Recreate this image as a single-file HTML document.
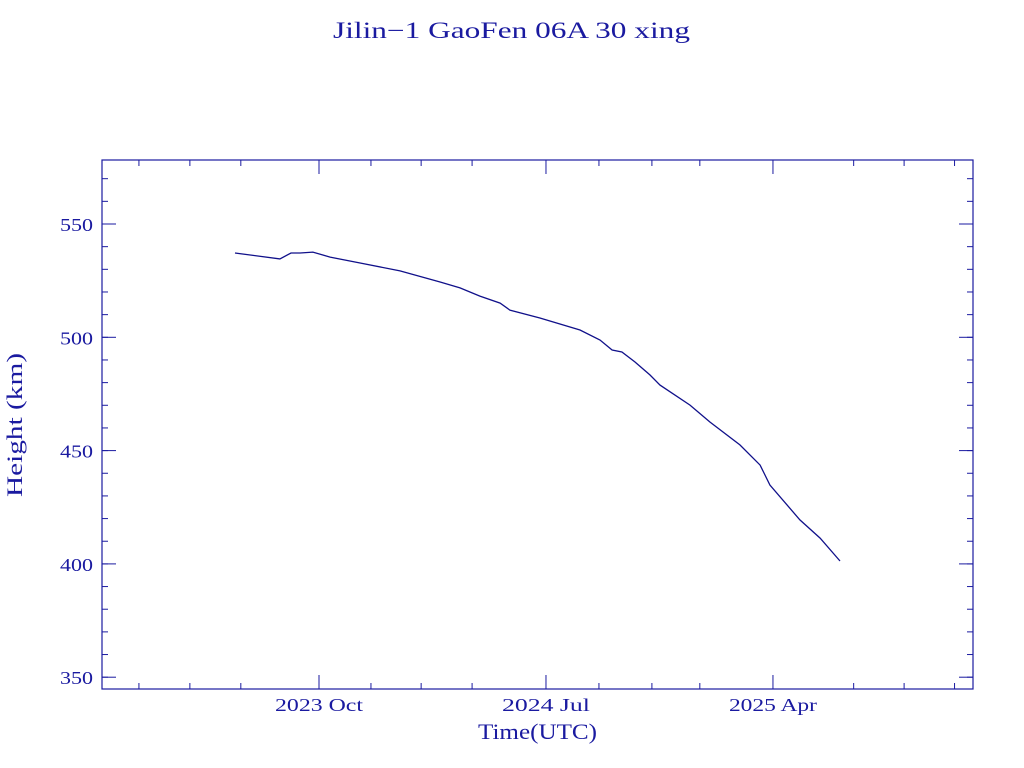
<!DOCTYPE html>
<html><head><meta charset="utf-8"><style>
html,body{margin:0;padding:0;background:#fff;}
svg{display:block;font-family:"Liberation Serif",serif;}
</style></head><body>
<svg id="chart" width="1024" height="768" viewBox="0 0 1024 768" xmlns="http://www.w3.org/2000/svg">
<text x="333" y="38" textLength="357" lengthAdjust="spacingAndGlyphs" font-size="23" fill="#1a1aa0">Jilin−1 GaoFen 06A 30 xing</text>
<rect x="102" y="160" width="871" height="529" fill="none" stroke="#1a1aa0" stroke-width="1.2"/>
<g id="axes"></g>
<text x="478" y="739" textLength="119" lengthAdjust="spacingAndGlyphs" font-size="22" fill="#1a1aa0">Time(UTC)</text>
<text transform="translate(22,497) rotate(-90)" textLength="144" lengthAdjust="spacingAndGlyphs" font-size="22" fill="#1a1aa0">Height (km)</text>
</svg>
<script>
// x in months since 2023-01-01
const months=[5.67,7.45,7.89,8.25,8.76,9.44,10.63,12.21,13.80,14.59,15.38,16.18,16.57,17.76,19.35,20.14,20.62,21.01,21.53,22.12,22.52,23.71,24.50,25.69,26.49,26.88,28.07,28.87,29.66];
const heights=[537.2,534.6,537.2,537.2,537.6,535.4,532.8,529.3,524.4,521.8,518.2,515.1,512.0,508.5,503.2,498.8,494.4,493.5,489.1,483.4,478.9,470.1,462.6,452.5,443.6,434.8,419.4,411.4,401.3];
const xMajorTicks=[9,18,27];
const xMajorLabels=["2023 Oct","2024 Jul","2025 Apr"];
const xMinorTicks=[1.86,3.88,5.9,11.06,13.05,15.07,20.1,22.2,24.1,30.2,32.2,34.2];
const yMajorTicks=[350,400,450,500,550];
const yMinorTicks=[350,360,370,380,390,400,410,420,430,440,450,460,470,480,490,500,510,520,530,540,550,560,570];

const NS="http://www.w3.org/2000/svg";
const C="#1a1aa0";
const X0=102,X1=973,Y0=160,Y1=689;
const xs=m=>319+(m-9)*25.22;
const ys=v=>224+(550-v)*2.266;
const g=document.getElementById('axes');
function line(x1,y1,x2,y2,name){const l=document.createElementNS(NS,'line');
l.setAttribute('x1',x1);l.setAttribute('y1',y1);l.setAttribute('x2',x2);l.setAttribute('y2',y2);
l.setAttribute('stroke',C);l.setAttribute('stroke-width','1');


g.appendChild(l);}
function text(x,y,s,anchor,len,name){const t=document.createElementNS(NS,'text');
t.setAttribute('x',x);t.setAttribute('y',y);t.setAttribute('text-anchor',anchor);
t.setAttribute('textLength',len);t.setAttribute('lengthAdjust','spacingAndGlyphs');
t.setAttribute('font-size','18');t.setAttribute('fill',C);t.textContent=s;


g.appendChild(t);}
xMajorTicks.forEach((m,i)=>{const x=xs(m);line(x,Y1,x,Y1-14,'x-major-tick');line(x,Y0,x,Y0+14,'x-major-tick');text(x,711,xMajorLabels[i],'middle',88,'x-tick-label');});
xMinorTicks.forEach(m=>{const x=xs(m);line(x,Y1,x,Y1-6,'x-minor-tick');line(x,Y0,x,Y0+6,'x-minor-tick');});
yMajorTicks.forEach(v=>{const y=ys(v);line(X0,y,X0+14,y,'y-major-tick');line(X1,y,X1-14,y,'y-major-tick');text(93,y+7,String(v),'end',33,'y-tick-label');});
yMinorTicks.forEach(v=>{const y=ys(v);if(y<Y0||y>Y1)return;line(X0,y,X0+6,y,'y-minor-tick');line(X1,y,X1-6,y,'y-minor-tick');});
const p=document.createElementNS(NS,'polyline');
p.setAttribute('points',months.map((m,i)=>xs(m).toFixed(1)+','+ys(heights[i]).toFixed(1)).join(' '));
p.setAttribute('fill','none');p.setAttribute('stroke','#10108a');p.setAttribute('stroke-width','1.3');


g.appendChild(p);
</script>
</body></html>
